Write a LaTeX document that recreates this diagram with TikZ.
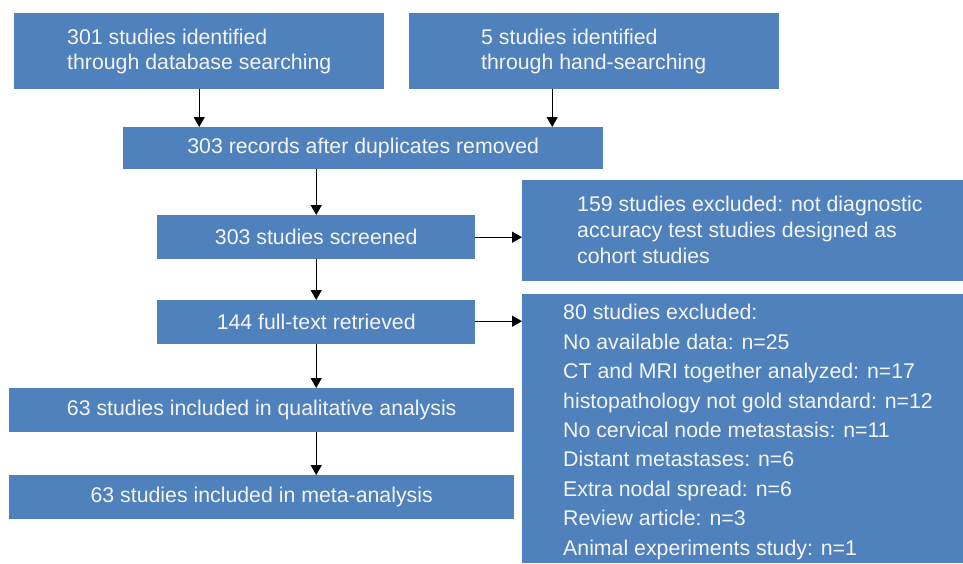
\documentclass[tikz,border=0pt]{standalone}
\usepackage{fontspec}
\setmainfont{Liberation Sans}
\usetikzlibrary{arrows.meta}
\definecolor{boxblue}{RGB}{79,129,189}
\definecolor{txtwhite}{RGB}{245,245,245}
\tikzset{
  box/.style={fill=boxblue, draw=none, inner sep=0pt, anchor=north west},
  txt/.style={text=txtwhite, inner sep=0pt, font=\fontsize{21.3}{25}\selectfont},
  arr/.style={draw=black, line width=1.4pt, -{Triangle[length=10pt,width=11pt]}}
}
\begin{document}
\begin{tikzpicture}[x=1pt,y=-1pt]
\useasboundingbox (0,0) rectangle (963,563);
% boxes
\node[box, minimum width=370pt, minimum height=76pt] (A) at (14,13) {};
\node[box, minimum width=370pt, minimum height=76pt] (B) at (409,13) {};
\node[box, minimum width=480pt, minimum height=42pt] (C) at (123,127) {};
\node[box, minimum width=318pt, minimum height=44pt] (D) at (157,215) {};
\node[box, minimum width=441pt, minimum height=101pt] (E) at (522,180) {};
\node[box, minimum width=318pt, minimum height=44pt] (F) at (157,300) {};
\node[box, minimum width=441pt, minimum height=269pt] (G) at (522,294) {};
\node[box, minimum width=505pt, minimum height=44pt] (H) at (9,388) {};
\node[box, minimum width=505pt, minimum height=44pt] (I) at (9,475) {};
% texts
\node[txt, anchor=west, align=left] (tA) at (67,51) {301 studies identified\\through database searching};
\node[txt, anchor=west, align=left] (tB) at (481,51) {5 studies identified\\through hand-searching};
\node[txt] (tC) at (C.center) {303 records after duplicates removed};
\node[txt] (tD) at (D.center) {303 studies screened};
\node[txt, anchor=west, align=left, font=\fontsize{21.3}{26}\selectfont] (tE) at (577,230) {159 studies excluded: not diagnostic\\accuracy test studies designed as\\cohort studies};
\node[txt] (tF) at (F.center) {144 full-text retrieved};
\node[txt, anchor=west, align=left, font=\fontsize{21.3}{29.4}\selectfont] (tG) at (563,432) {80 studies excluded:\\No available data: n=25\\CT and MRI together analyzed: n=17\\histopathology not gold standard: n=12\\No cervical node metastasis: n=11\\Distant metastases: n=6\\Extra nodal spread: n=6\\Review article: n=3\\Animal experiments study: n=1};
\node[txt] (tH) at (H.center) {63 studies included in qualitative analysis};
\node[txt] (tI) at (I.center) {63 studies included in meta-analysis};
% connectors
\draw[arr] (A.south) -- (A.south |- C.north);
\draw[arr] ([xshift=-42pt]B.south) -- ([xshift=-42pt]B.south |- C.north);
\draw[arr] (D.north |- C.south) -- (D.north);
\draw[arr] (D.east) -- (D.east -| E.west);
\draw[arr] (D.south) -- (F.north);
\draw[arr] ([yshift=1pt]F.east) -- ([yshift=1pt]F.east -| G.west);
\draw[arr] (F.south) -- (F.south |- H.north);
\draw[arr] (F.south |- H.south) -- (F.south |- I.north);
\end{tikzpicture}
\end{document}
